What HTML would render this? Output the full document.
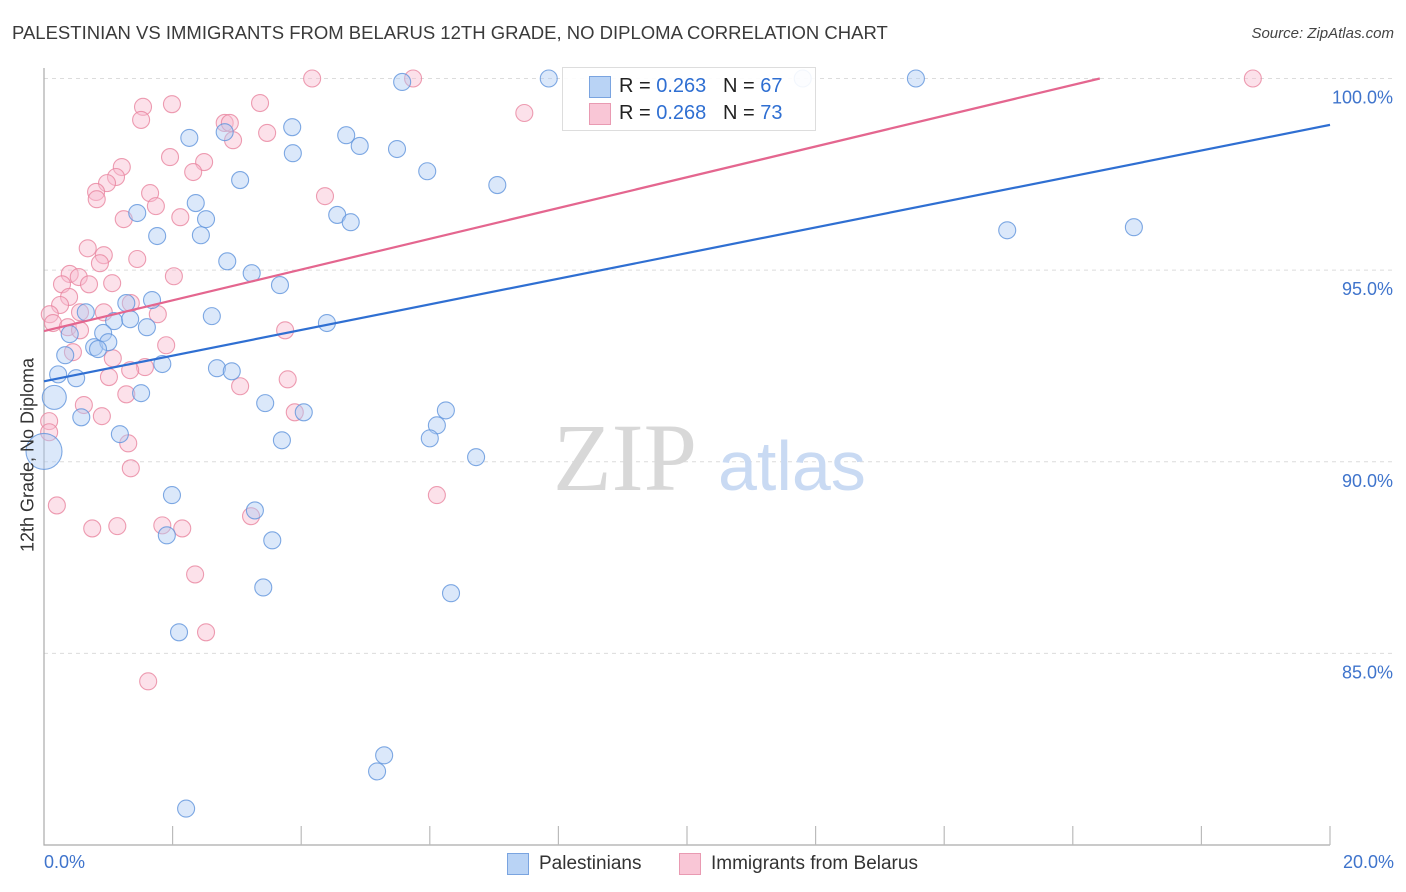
<!DOCTYPE html>
<html><head><meta charset="utf-8"><style>
body{margin:0;background:#fff;font-family:"Liberation Sans",sans-serif;}
#wrap{position:relative;width:1406px;height:892px;overflow:hidden;}
.t{position:absolute;white-space:nowrap;}
</style></head><body>
<div id="wrap">
<div class="t" style="left:12px;top:22px;font-size:18.5px;color:#3a3a3a;">PALESTINIAN VS IMMIGRANTS FROM BELARUS 12TH GRADE, NO DIPLOMA CORRELATION CHART</div>
<div class="t" style="right:12px;top:25px;font-size:15px;color:#444;font-style:italic;">Source: ZipAtlas.com</div>
<svg id="svg" width="1406" height="892" style="position:absolute;left:0;top:0"></svg>
</div>
<script>
const blueX=[7.85,5.57,11.80,13.56,2.26,2.81,3.86,4.70,4.91,5.49,3.87,5.96,7.05,3.05,2.36,1.45,2.52,4.56,4.77,1.76,2.44,14.98,16.95,2.85,3.23,3.67,1.68,1.28,0.65,1.09,1.34,1.60,2.61,4.40,0.92,0.40,0.78,1.00,0.84,0.33,1.84,2.69,2.92,0.22,0.50,0.16,1.51,3.44,4.04,6.25,0.58,6.11,1.18,6.00,3.70,0.0,6.72,1.99,3.28,1.91,3.55,3.41,6.33,2.10,5.29,5.18,2.21];
const blueY=[100,99.91,100,100,98.45,98.60,98.73,98.52,98.24,98.16,98.05,97.58,97.22,97.35,96.75,96.49,96.33,96.44,96.25,95.89,95.91,96.04,96.12,95.23,94.92,94.61,94.22,94.14,93.90,93.67,93.72,93.51,93.80,93.62,93.36,93.33,92.99,93.12,92.94,92.78,92.55,92.44,92.36,92.28,92.18,91.68,91.79,91.53,91.29,91.34,91.16,90.95,90.72,90.61,90.56,90.27,90.12,89.13,88.73,88.08,87.95,86.72,86.57,85.55,82.34,81.92,80.95];
const pinkX=[4.17,5.74,18.80,1.54,1.99,3.36,7.47,1.51,2.81,2.89,3.47,2.94,1.96,2.49,1.21,1.12,0.98,0.81,1.65,0.82,2.32,1.74,4.37,2.12,1.24,0.68,0.93,1.45,0.87,0.40,0.54,2.02,0.28,0.70,1.06,0.39,0.25,0.09,0.56,0.93,1.77,0.14,0.37,0.56,1.35,3.75,1.90,0.45,1.07,1.57,1.34,1.01,3.79,3.05,1.28,0.62,0.90,3.90,0.08,0.08,1.31,1.35,0.20,6.11,3.22,0.75,1.14,1.84,2.15,2.35,2.52,1.62];
const pinkY=[100,100,100,99.26,99.33,99.36,99.10,98.92,98.84,98.84,98.58,98.39,97.95,97.82,97.69,97.43,97.27,97.04,97.01,96.85,97.56,96.67,96.93,96.38,96.33,95.57,95.39,95.29,95.18,94.90,94.82,94.84,94.63,94.63,94.66,94.30,94.09,93.85,93.90,93.90,93.85,93.62,93.51,93.43,94.14,93.43,93.04,92.86,92.70,92.47,92.39,92.21,92.15,91.97,91.76,91.48,91.19,91.29,91.06,90.77,90.48,89.83,88.86,89.13,88.58,88.26,88.32,88.34,88.26,87.06,85.55,84.27];
const bigBlue=[45,55];
const blueTrend=[[0,92.10],[20,98.79]];
const pinkTrend=[[0,93.41],[16.42,100]];
const yTicks=[100,95,90,85];
const yTickLabels=["100.0%","95.0%","90.0%","85.0%"];

const X0=44,X1=1330,Y0=78.5,Y1=845;
const sx=v=>X0+(v/20)*(X1-X0);
const sy=v=>Y0+(100-v)/20*(Y1-Y0);
const svg=document.getElementById('svg');
const NS='http://www.w3.org/2000/svg';
function mk(tag,attrs,parent){const e=document.createElementNS(NS,tag);for(const k in attrs)e.setAttribute(k,attrs[k]);(parent||svg).appendChild(e);return e;}

yTicks.forEach((v,i)=>{
  const g=mk('line',{x1:X0,x2:1395,y1:sy(v),y2:sy(v),stroke:'#dcdcdc','stroke-dasharray':'4,4','stroke-width':1});
  
  
  const t=mk('text',{x:1393,y:sy(v)+25,'text-anchor':'end','font-size':18,fill:'#3f74cc','font-family':'Liberation Sans, sans-serif'});
  t.textContent=yTickLabels[i];
  
  
});
const wm=mk('text',{x:553,y:490,'font-size':96,fill:'#d8d8d8','font-family':'Liberation Serif, serif'});
wm.textContent='ZIP';


const wm2=mk('text',{x:718,y:490,'font-size':70,fill:'#c9daf3','font-family':'Liberation Sans, sans-serif'});
wm2.textContent='atlas';


const ax=mk('path',{d:`M${X0},68V${Y1}H1330`,stroke:'#aaa',fill:'none','stroke-width':1.2});


for(let i=1;i<=10;i++){
  const tk=mk('line',{x1:sx(i*2),x2:sx(i*2),y1:826,y2:Y1,stroke:'#bbb','stroke-width':1.2});
  
  
}
function pts(xs,ys,fill,stroke,name){
  xs.forEach((x,i)=>{
    let r=8.5;
    if(name==='blue-point'&&i===bigBlue[1])r=18;
    if(name==='blue-point'&&i===bigBlue[0])r=12;
    const c=mk('circle',{cx:sx(x),cy:sy(ys[i]),r:r,fill:fill,'fill-opacity':0.45,stroke:stroke,'stroke-width':1.1,'stroke-opacity':0.8});
    
    
  });
}
pts(pinkX,pinkY,'#f8bcd0','#e8859f','pink-point');
pts(blueX,blueY,'#afcdf3','#5f93dc','blue-point');
const bl=mk('line',{x1:sx(blueTrend[0][0]),y1:sy(blueTrend[0][1]),x2:sx(blueTrend[1][0]),y2:sy(blueTrend[1][1]),stroke:'#2f6fd2','stroke-width':2.2});


const pl=mk('line',{x1:sx(pinkTrend[0][0]),y1:sy(pinkTrend[0][1]),x2:sx(pinkTrend[1][0]),y2:sy(pinkTrend[1][1]),stroke:'#e4668f','stroke-width':2.2});


</script>
<div class="t" style="left:28px;top:455px;font-size:18px;color:#333;transform:translate(-50%,-50%) rotate(-90deg);">12th Grade, No Diploma</div>
<div class="t" style="left:44px;top:852px;font-size:18px;color:#3f74cc;">0.0%</div>
<div class="t" style="right:12px;top:852px;font-size:18px;color:#3f74cc;">20.0%</div>
<div style="position:absolute;left:562px;top:67px;width:252px;height:62px;border:1px solid #ddd;background:rgba(255,255,255,0.9);font-size:20px;color:#222;">
  <div style="position:absolute;left:26px;top:8px;width:20px;height:20px;background:#b9d3f5;border:1px solid #7aa4e0;"></div>
  <div class="t" style="left:56px;top:7px;">R = <span style="color:#2f6fd2">0.263</span>&nbsp;&nbsp;&nbsp;N = <span style="color:#2f6fd2">67</span></div>
  <div style="position:absolute;left:26px;top:35px;width:20px;height:20px;background:#f9c6d6;border:1px solid #e99ab2;"></div>
  <div class="t" style="left:56px;top:34px;">R = <span style="color:#2f6fd2">0.268</span>&nbsp;&nbsp;&nbsp;N = <span style="color:#2f6fd2">73</span></div>
</div>
<div style="position:absolute;left:507px;top:853px;font-size:19px;color:#333;">
  <div style="position:absolute;left:0;top:0;width:20px;height:20px;background:#b9d3f5;border:1px solid #7aa4e0;"></div>
  <div class="t" style="left:32px;top:0;">Palestinians</div>
  <div style="position:absolute;left:172px;top:0;width:20px;height:20px;background:#f9c6d6;border:1px solid #e99ab2;"></div>
  <div class="t" style="left:204px;top:0;">Immigrants from Belarus</div>
</div>
</body></html>
